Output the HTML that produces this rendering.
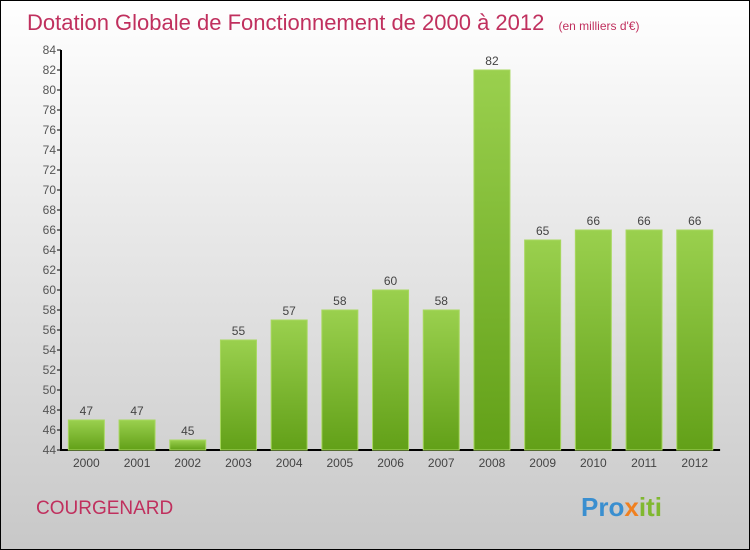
<!DOCTYPE html>
<html><head><meta charset="utf-8"><style>
body{margin:0}
#c{position:relative;width:748px;height:548px;border:1px solid #000;background:linear-gradient(#fff,#c8c8c8);font-family:"Liberation Sans",sans-serif;overflow:hidden}
</style></head><body>
<div id="c">
<svg width="748" height="548">
<defs><linearGradient id="g" x1="0" y1="0" x2="0" y2="1"><stop offset="0" stop-color="#9ad04e"/><stop offset="1" stop-color="#62a018"/></linearGradient></defs>
<text x="26" y="29" font-size="22" fill="#c0305e">Dotation Globale de Fonctionnement de 2000 à 2012 <tspan font-size="12" dx="8">(en milliers d'€)</tspan></text>
<g id="grid"></g>
<g id="bars"></g>
<text x="35" y="513" font-size="19" fill="#c0305e">COURGENARD</text>
<text x="580" y="515" font-size="26" font-weight="bold" fill="#3a8fd0">Pro<tspan fill="#f08020">x</tspan><tspan fill="#80b830">iti</tspan></text>
</svg>
</div>
<script>
const years=["2000","2001","2002","2003","2004","2005","2006","2007","2008","2009","2010","2011","2012"];
const values=[47,47,45,55,57,58,60,58,82,65,66,66,66];
const yTicks=[44,46,48,50,52,54,56,58,60,62,64,66,68,70,72,74,76,78,80,82,84];
const NS="http://www.w3.org/2000/svg";
const x0=60,band=50.7,y=v=>449-(v-44)*10;
function mk(t,a,p){const e=document.createElementNS(NS,t);for(const k in a)e.setAttribute(k,a[k]);p.appendChild(e);return e;}
const G=document.getElementById('grid'),B=document.getElementById('bars');
yTicks.forEach(v=>{
 const l=mk('line',{x1:x0-4,x2:x0,y1:y(v),y2:y(v),stroke:'#000'},G);
 
 
 const t=mk('text',{x:x0-5,y:y(v)+4,'font-size':12,'text-anchor':'end',fill:'#555'},G);
 t.textContent=v;
 
 
});
const ax=mk('path',{d:`M${x0} ${y(84)}V${y(44)}H${x0+band*13}`,stroke:'#000','stroke-width':2,fill:'none'},G);


years.forEach((yr,i)=>{
 const cx=x0+band*(i+0.5),v=values[i];
 const r=mk('rect',{x:cx-18,y:y(v),width:36,height:y(44)-y(v),fill:'url(#g)',stroke:'#a8d860','stroke-width':1},B);
 
 
 const t=mk('text',{x:cx,y:y(v)-5,'font-size':12,'text-anchor':'middle',fill:'#444'},B);
 t.textContent=v;
 
 
 const xl=mk('text',{x:cx,y:466,'font-size':12,'text-anchor':'middle',fill:'#444'},B);
 xl.textContent=yr;
 
 
});
</script>
</body></html>
